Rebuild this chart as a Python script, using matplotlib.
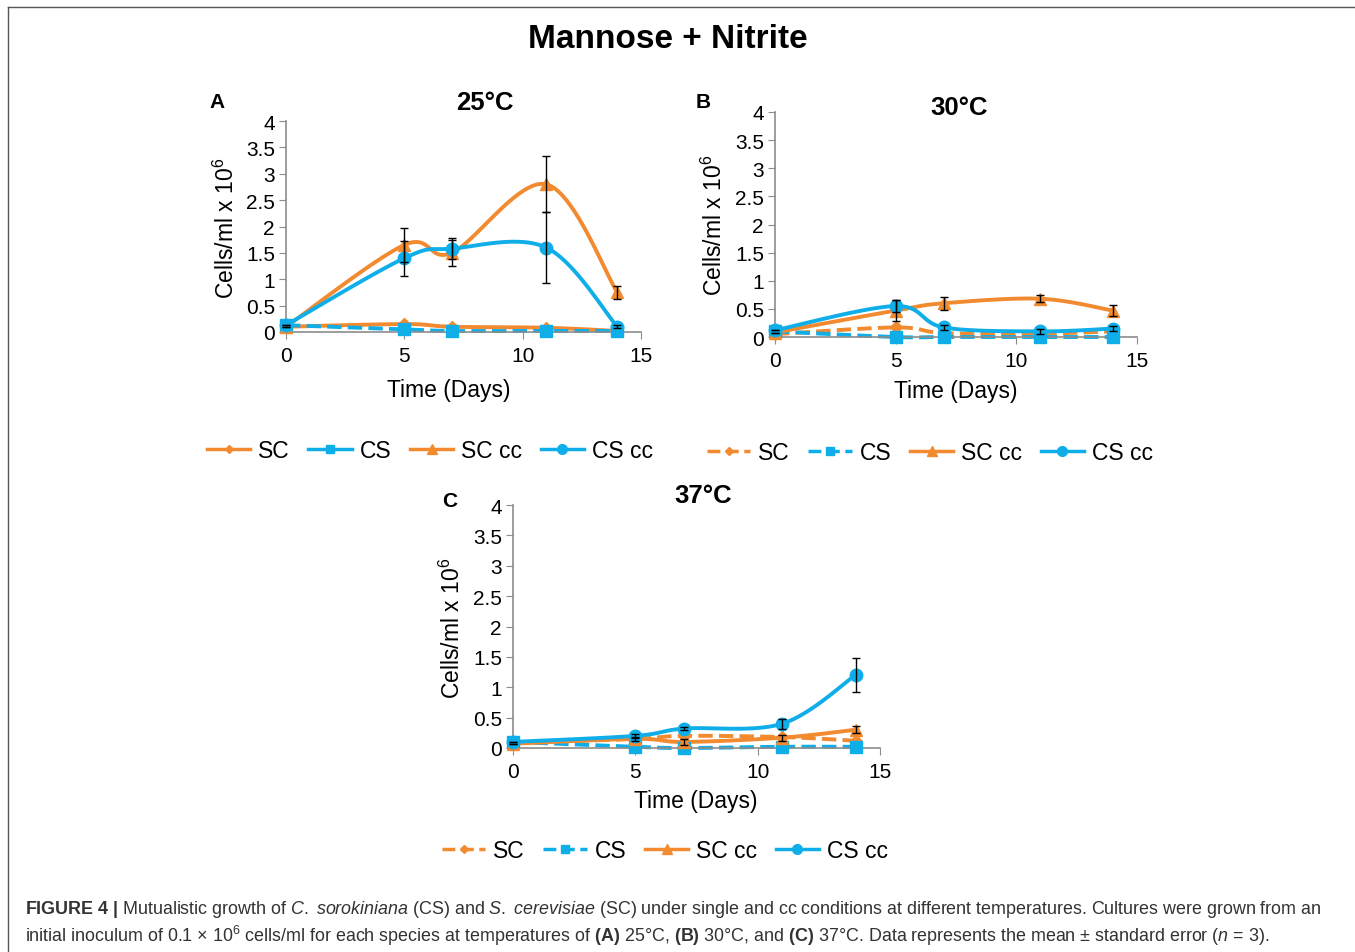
import matplotlib.pyplot as plt
import numpy as np
from matplotlib.lines import Line2D

plt.rcParams['font.family'] = ['Liberation Sans', 'DejaVu Sans']
plt.rcParams['mathtext.fontset'] = 'custom'
plt.rcParams['mathtext.rm'] = 'Liberation Sans'
plt.rcParams['mathtext.it'] = 'Liberation Sans:italic'
plt.rcParams['mathtext.bf'] = 'Liberation Sans:bold'

days = [0, 5, 7, 11, 14]
series_names = ['SC', 'CS', 'SC cc', 'CS cc']

# 25 C
a_sc = [0.10, 0.15, 0.10, 0.08, 0.02]
a_cs = [0.13, 0.05, 0.02, 0.02, 0.02]
a_sccc = [0.10, 1.65, 1.50, 2.80, 0.75]
a_sccc_err = [0.0, 0.32, 0.25, 0.53, 0.13]
a_cscc = [0.13, 1.40, 1.58, 1.60, 0.10]
a_cscc_err = [0.0, 0.33, 0.20, 0.67, 0.03]

# 30 C
b_sc = [0.05, 0.17, 0.07, 0.06, 0.10]
b_cs = [0.10, 0.00, 0.00, 0.00, 0.00]
b_sccc = [0.08, 0.47, 0.60, 0.68, 0.47]
b_sccc_err = [0.0, 0.18, 0.12, 0.06, 0.10]
b_cscc = [0.12, 0.55, 0.17, 0.10, 0.15]
b_cscc_err = [0.0, 0.10, 0.04, 0.04, 0.05]

# 37 C
c_sc = [0.08, 0.15, 0.20, 0.18, 0.12]
c_cs = [0.10, 0.02, 0.00, 0.02, 0.02]
c_sccc = [0.07, 0.15, 0.10, 0.17, 0.30]
c_sccc_err = [0.0, 0.03, 0.05, 0.05, 0.06]
c_cscc = [0.10, 0.20, 0.32, 0.40, 1.20]
c_cscc_err = [0.0, 0.03, 0.03, 0.08, 0.28]

orange = '#F28A30'
blue = '#0FAEE9'
W, H = 1355, 953


def px(x, y):
    return x / W, 1 - y / H


def smooth(xs, ys, sx, sy, n=30):
    # excel-like smoothed line (bezier through points), done in scaled units
    p = np.column_stack([np.array(xs) * sx, np.array(ys) * sy])
    out = []
    for i in range(len(p) - 1):
        p0 = p[i - 1] if i > 0 else p[i]
        p3 = p[i + 2] if i + 2 < len(p) else p[i + 1]
        c1 = p[i] + (p[i + 1] - p0) / 6
        c2 = p[i + 1] - (p3 - p[i]) / 6
        t = np.linspace(0, 1, n)[:, None]
        seg = ((1 - t) ** 3) * p[i] + 3 * ((1 - t) ** 2) * t * c1 + 3 * (1 - t) * t ** 2 * c2 + t ** 3 * p[i + 1]
        out.append(seg)
    out = np.vstack(out)
    return out[:, 0] / sx, out[:, 1] / sy


fig = plt.figure(figsize=(W / 100, H / 100), dpi=100)

# frame
fig.add_artist(Line2D([8 / W, 1], [1 - 8 / H, 1 - 8 / H], color='#555555', lw=1))
fig.add_artist(Line2D([8 / W, 8 / W], [1 - 8 / H, 0], color='#555555', lw=1))

fig.text(*px(668, 40), 'Mannose + Nitrite', fontsize=24, fontweight='bold', ha='center', va='center')

panels = [
    dict(box=(286, 122, 641, 333), letter='A', lpos=(217, 102), title='25°C', tpos=(485, 103),
         ylpos=(226, 228), xlpos=(449, 390), legpos=(430, 452), sc_ls='-', leg_ls='-',
         data=(a_sc, a_cs, a_sccc, a_sccc_err, a_cscc, a_cscc_err)),
    dict(box=(775, 113, 1137, 338), letter='B', lpos=(703, 102), title='30°C', tpos=(959, 108),
         ylpos=(714, 225), xlpos=(956, 392), legpos=(930, 454), sc_ls='--', leg_ls='--',
         data=(b_sc, b_cs, b_sccc, b_sccc_err, b_cscc, b_cscc_err)),
    dict(box=(513, 506, 880, 749), letter='C', lpos=(450, 502), title='37°C', tpos=(703, 496),
         ylpos=(452, 628), xlpos=(696, 802), legpos=(665, 852), sc_ls='--', leg_ls='--',
         data=(c_sc, c_cs, c_sccc, c_sccc_err, c_cscc, c_cscc_err)),
]

for pnl in panels:
    x0, y0, x1, y1 = pnl['box']
    ax = fig.add_axes([x0 / W, 1 - y1 / H, (x1 - x0) / W, (y1 - y0) / H])
    sc, cs, sccc, sccc_err, cscc, cscc_err = pnl['data']
    sx, sy = (x1 - x0) / 15, (y1 - y0) / 4

    specs = [
        (sc, None, orange, pnl['sc_ls'], pnl['leg_ls'], 'D', 6),
        (cs, None, blue, '--', pnl['leg_ls'], 's', 8),
        (sccc, sccc_err, orange, '-', '-', '^', 9),
        (cscc, cscc_err, blue, '-', '-', 'o', 9),
    ]
    handles = []
    for vals, err, col, ls, lls, mk, ms in specs:
        xs, ys = smooth(days, vals, sx, sy)
        ax.plot(xs, ys, color=col, ls=ls, lw=2.8, clip_on=False)
        ax.plot(days, vals, ls='none', marker=mk, ms=ms, color=col, clip_on=False, zorder=3)
        if err is not None:
            ax.errorbar(days, vals, yerr=err, fmt='none', ecolor='black', elinewidth=1,
                        capsize=3, capthick=1, zorder=4, clip_on=False)
        handles.append(Line2D([], [], color=col, ls=lls, lw=2.5, marker=mk, ms=ms - 2))

    ax.set_xlim(0, 15)
    ax.set_ylim(0, 4)
    ax.set_xticks([0, 5, 10, 15])
    ax.set_yticks(np.arange(0, 4.01, 0.5))
    ax.set_yticklabels(['0', '0.5', '1', '1.5', '2', '2.5', '3', '3.5', '4'])
    for s in ['top', 'right']:
        ax.spines[s].set_visible(False)
    for s in ['left', 'bottom']:
        ax.spines[s].set_color('#8c8c8c')
        ax.spines[s].set_linewidth(1.2)
    ax.tick_params(axis='both', colors='#8c8c8c', labelcolor='black', labelsize=15, length=5)
    ax.tick_params(axis='x', pad=5)
    ax.tick_params(axis='y', pad=3)

    fig.text(*px(*pnl['lpos']), pnl['letter'], fontsize=15, fontweight='bold', ha='center', va='center')
    fig.text(*px(*pnl['tpos']), pnl['title'], fontsize=18.5, fontweight='bold', ha='center', va='center')
    fig.text(*px(*pnl['ylpos']), r'Cells/ml x 10$^{6}$', fontsize=16.5, rotation=90, ha='center', va='center')
    fig.text(*px(*pnl['xlpos']), 'Time (Days)', fontsize=16.5, ha='center', va='center')
    fig.legend(handles, series_names, loc='center', bbox_to_anchor=px(*pnl['legpos']), ncol=4,
               frameon=False, fontsize=16.5, handlelength=1.9, handletextpad=0.35, columnspacing=0.8)

cap1 = (r'$\bf{FIGURE\ 4\ |}$ Mutualistic growth of $\it{C.\ sorokiniana}$ (CS) and $\it{S.\ cerevisiae}$ (SC) '
        'under single and cc conditions at different temperatures. Cultures were grown from an')
cap2 = (r'initial inoculum of 0.1 $\times$ 10$^{6}$ cells/ml for each species at temperatures of $\bf{(A)}$ 25°C, '
        r'$\bf{(B)}$ 30°C, and $\bf{(C)}$ 37°C. Data represents the mean $\pm$ standard error ($\it{n}$ = 3).')
fig.text(*px(25, 910), cap1, fontsize=12.9, ha='left', va='center', color='#333333')
fig.text(*px(25, 936), cap2, fontsize=12.9, ha='left', va='center', color='#333333')

fig.savefig('out.png', dpi=100)
